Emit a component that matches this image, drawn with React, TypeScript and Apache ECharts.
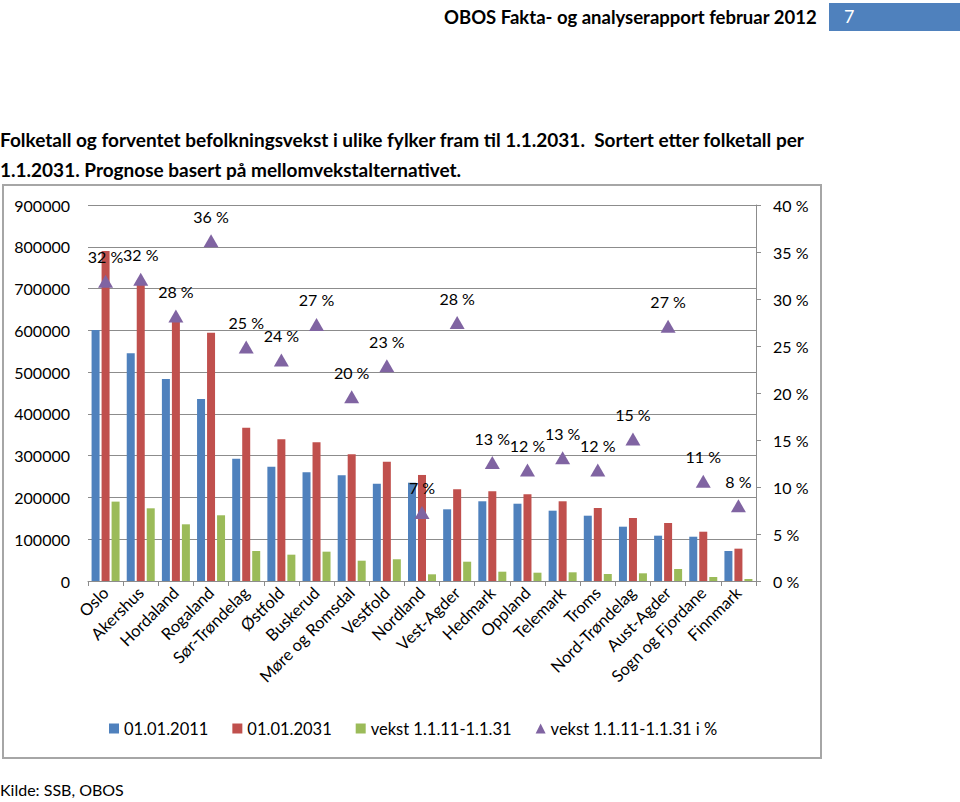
import React, { useEffect, useRef } from "react";
import * as echarts from "echarts";

const categories = [
  "Oslo", "Akershus", "Hordaland", "Rogaland", "Sør-Trøndelag", "Østfold", "Buskerud",
  "Møre og Romsdal", "Vestfold", "Nordland", "Vest-Agder", "Hedmark", "Oppland",
  "Telemark", "Troms", "Nord-Trøndelag", "Aust-Agder", "Sogn og Fjordane", "Finnmark",
];
const pop2011 = [600900, 545000, 483600, 435700, 292800, 273600, 260200, 253000, 233000, 235300, 171600, 190800, 185000, 168300, 156300, 130000, 108500, 106000, 71800];
const pop2031 = [790000, 720000, 620000, 594400, 367000, 339200, 332000, 303300, 285600, 253800, 219500, 214700, 207500, 190800, 174800, 150800, 138900, 118000, 77400];
const growth = [190000, 174000, 135700, 157300, 71800, 63000, 70200, 48600, 52000, 16000, 46200, 22300, 19900, 20800, 16800, 18400, 28700, 9600, 4800];
const growthPct = [31.9, 32.1, 28.2, 36.2, 24.9, 23.5, 27.3, 19.6, 22.9, 7.3, 27.5, 12.6, 11.8, 13.1, 11.8, 15.1, 27.1, 10.6, 8.0];

const leftTicks = { min: 0, max: 900000, interval: 100000 };
const rightTicks = { min: 0, max: 40, interval: 5 };

const seriesNames = ["01.01.2011", "01.01.2031", "vekst 1.1.11-1.1.31", "vekst 1.1.11-1.1.31 i %"];

const FONT = "Lato, 'Open Sans', sans-serif";

export default function App() {
  const ref = useRef<HTMLDivElement>(null);
  useEffect(() => {
    if (!ref.current) return;
    const chart = echarts.init(ref.current, null, { renderer: "svg" });
    const txt = { fontFamily: FONT, fontSize: 16, color: "#000" };
    chart.setOption({
      animation: false,
      backgroundColor: "#fff",
      textStyle: { fontFamily: FONT },
      grid: { left: 88, right: 204, top: 205, bottom: 221, containLabel: false },
      legend: {
        left: 104,
        top: 715,
        itemWidth: 10,
        itemHeight: 10,
        itemGap: 24,
        textStyle: { ...txt, fontSize: 16.5 },
        data: [
          { name: seriesNames[0], icon: "rect" },
          { name: seriesNames[1], icon: "rect" },
          { name: seriesNames[2], icon: "rect" },
          { name: seriesNames[3], icon: "triangle" },
        ],
      },
      xAxis: {
        type: "category",
        data: categories,
        axisLine: { show: true, lineStyle: { color: "#8c8c8c", width: 1 } },
        axisTick: { show: true, length: 5, lineStyle: { color: "#8c8c8c" } },
        axisLabel: { ...txt, fontSize: 16.5, rotate: 45, interval: 0, margin: 9 },
      },
      yAxis: [
        {
          type: "value",
          ...leftTicks,
          axisLine: { show: false },
          axisTick: { show: false },
          splitLine: { show: true, lineStyle: { color: "#8c8c8c", width: 1 } },
          axisLabel: { ...txt, margin: 18, formatter: (v: number) => String(v) },
        },
        {
          type: "value",
          ...rightTicks,
          position: "right",
          axisLine: { show: true, lineStyle: { color: "#8c8c8c", width: 1 } },
          axisTick: { show: true, length: 5, inside: false, lineStyle: { color: "#8c8c8c" } },
          splitLine: { show: false },
          axisLabel: { ...txt, margin: 17, formatter: "{value} %" },
        },
      ],
      series: [
        { name: seriesNames[0], type: "bar", data: pop2011, barWidth: 8, barGap: "25%", itemStyle: { color: "#4F81BD" } },
        { name: seriesNames[1], type: "bar", data: pop2031, barWidth: 8, barGap: "25%", itemStyle: { color: "#C0504D" } },
        { name: seriesNames[2], type: "bar", data: growth, barWidth: 8, barGap: "25%", itemStyle: { color: "#9BBB59" } },
        {
          name: seriesNames[3],
          type: "line",
          yAxisIndex: 1,
          data: growthPct,
          symbol: "triangle",
          symbolSize: [15, 13],
          lineStyle: { width: 0, opacity: 0 },
          itemStyle: { color: "#8064A2" },
          z: 5,
          label: {
            show: true,
            position: "top",
            distance: 10,
            ...txt,
            formatter: (p: any) => Math.round(p.value) + " %",
          },
        },
      ],
      graphic: [
        {
          type: "text",
          right: 960 - 817,
          top: 7,
          style: { text: "OBOS Fakta- og analyserapport februar 2012", font: `bold 18.5px ${FONT}`, fill: "#000" },
        },
        { type: "rect", shape: { x: 829, y: 3, width: 131, height: 28 }, style: { fill: "#4F81BD" } },
        { type: "text", x: 844, y: 7, style: { text: "7", font: `18px ${FONT}`, fill: "#fff" } },
        {
          type: "text",
          x: 0,
          y: 124,
          style: {
            text: "Folketall og forventet befolkningsvekst i ulike fylker fram til 1.1.2031.  Sortert etter folketall per\n1.1.2031. Prognose basert på mellomvekstalternativet.",
            font: `bold 19px ${FONT}`,
            lineHeight: 30,
            fill: "#000",
          },
        },
        {
          type: "rect",
          shape: { x: 3, y: 185, width: 818, height: 573 },
          style: { fill: "none", stroke: "#a6a6a6", lineWidth: 2 },
          silent: true,
        },
        { type: "text", x: 0, y: 781, style: { text: "Kilde: SSB, OBOS", font: `16px ${FONT}`, fill: "#000" } },
      ],
    });
    return () => chart.dispose();
  }, []);
  return <div ref={ref} style={{ position: "absolute", left: 0, top: 0, width: 960, height: 802 }} />;
}
